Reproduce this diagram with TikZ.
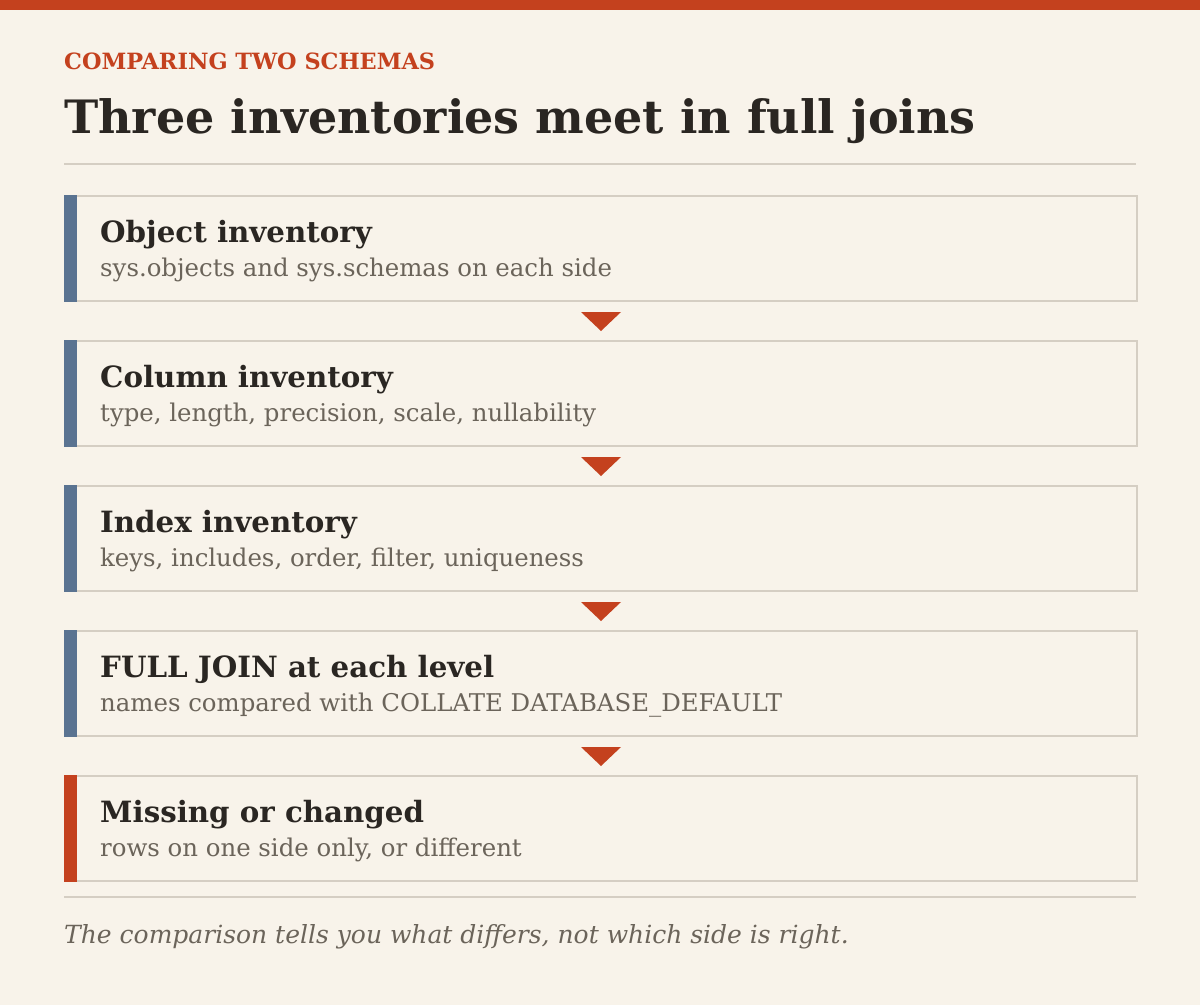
\documentclass[tikz,border=0pt]{standalone}
\usepackage{fontspec}
\setmainfont{DejaVu Serif}
\usetikzlibrary{calc}
\definecolor{bg}{HTML}{F8F3EA}
\definecolor{accent}{HTML}{C4411E}
\definecolor{ink}{HTML}{2A2622}
\definecolor{muted}{HTML}{6B645A}
\definecolor{slate}{HTML}{5A7391}
\definecolor{rulec}{HTML}{D5CEC3}
\tikzset{
  x=1pt,y=-1pt,
  stepbox/.style={draw=rulec,line width=2pt,fill=bg,minimum width=1072pt,minimum height=105pt,inner sep=0pt},
  steptitle/.style={anchor=base west,inner sep=0pt,text=ink,font=\fontsize{29.3}{30}\selectfont\bfseries},
  stepsub/.style={anchor=base west,inner sep=0pt,text=muted,font=\fontsize{24.4}{25}\selectfont},
  tri/.style={fill=accent,draw=none},
}
\begin{document}
\begin{tikzpicture}
\useasboundingbox (0,0) rectangle (1200,1005);
\fill[bg] (0,0) rectangle (1200,1005);
\fill[accent] (0,0) rectangle (1200,10);
\node[anchor=base west,inner sep=0pt,text=accent,font=\fontsize{22.4}{23}\selectfont\bfseries] (eyebrow) at (64,69) {COMPARING TWO SCHEMAS};
\node[anchor=base west,inner sep=0pt,text=ink,font=\fontsize{46}{47}\selectfont\bfseries] (title) at (64,133) {Three inventories meet in full joins};
\draw[rulec,line width=2pt] (64,164) -- (1136,164);
\foreach \i/\y/\bar/\t/\s in {
  1/195/slate/{Object inventory}/{sys.objects and sys.schemas on each side},
  2/340/slate/{Column inventory}/{type, length, precision, scale, nullability},
  3/485/slate/{Index inventory}/{keys, includes, order, filter, uniqueness},
  4/630/slate/{FULL JOIN at each level}/{names compared with COLLATE DATABASE\_DEFAULT},
  5/775/accent/{Missing or changed}/{rows on one side only, or different}} {
  \node[stepbox,anchor=north west] (b\i) at (64,\y) {};
  \fill[\bar] (b\i.north west) rectangle ($(b\i.south west)+(13,0)$);
  \node[steptitle] (t\i) at (100,\y+47) {\t};
  \node[stepsub] (s\i) at (100,\y+81) {\s};
}
\foreach \a/\b in {1/2,2/3,3/4,4/5} {
  \fill[tri] ($(b\a.south)+(-20,10)$) -- ($(b\a.south)+(20,10)$) -- ($(b\a.south)+(0,29)$) -- cycle;
}
\draw[rulec,line width=2pt] (64,897) -- (1136,897);
\node[anchor=base west,inner sep=0pt,text=muted,font=\fontsize{25}{26}\selectfont\itshape] (foot) at (64,943) {The comparison tells you what differs, not which side is right.};
\end{tikzpicture}
\end{document}
